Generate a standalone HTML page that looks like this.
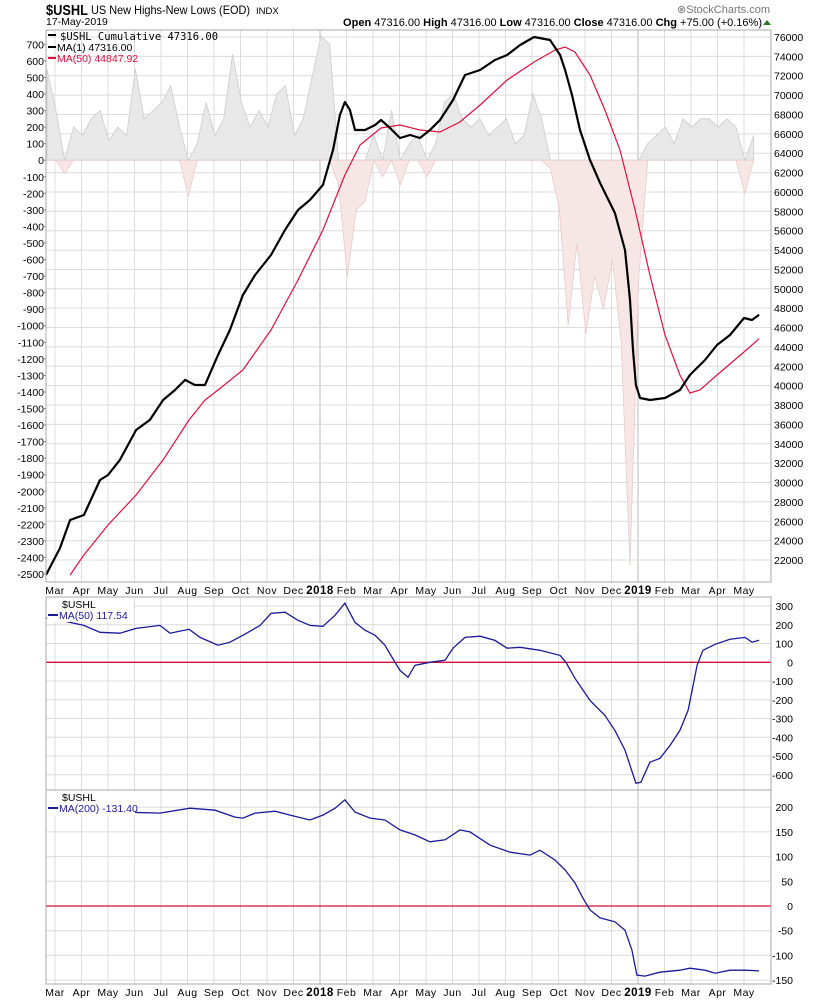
<!DOCTYPE html>
<html><head><meta charset="utf-8"><style>
html,body{margin:0;padding:0;background:#fff;}
svg{display:block;font-family:"Liberation Sans",sans-serif;}
</style></head><body>
<svg id="chart" width="820" height="1000" viewBox="0 0 820 1000" xmlns="http://www.w3.org/2000/svg">
  <text x="46" y="15" font-size="14.5" font-weight="bold" fill="#000" textLength="42" lengthAdjust="spacingAndGlyphs">$USHL</text>
  <text x="91" y="14" font-size="12" fill="#000" textLength="159" lengthAdjust="spacingAndGlyphs">US New Highs-New Lows (EOD)</text>
  <text x="256" y="14" font-size="9.5" fill="#000">INDX</text>
  <text x="46" y="25" font-size="10.5" fill="#000">17-May-2019</text>
  <text x="770" y="13" font-size="11" fill="#777" text-anchor="end">⊗StockCharts.com</text>
  <text x="762" y="26" font-size="11" fill="#000" text-anchor="end"><tspan font-weight="bold">Open</tspan> 47316.00  <tspan font-weight="bold">High</tspan> 47316.00  <tspan font-weight="bold">Low</tspan> 47316.00  <tspan font-weight="bold">Close</tspan> 47316.00  <tspan font-weight="bold">Chg</tspan> +75.00 (+0.16%)</text>
  <polygon points="763,25 771,25 767,20" fill="#2a7a2a"/>
  <g id="layer"></g>
</svg>
<script>
const monthLabels = ["Mar","Apr","May","Jun","Jul","Aug","Sep","Oct","Nov","Dec","2018","Feb","Mar","Apr","May","Jun","Jul","Aug","Sep","Oct","Nov","Dec","2019","Feb","Mar","Apr","May"];
const histStart = -0.3;
const histStep = 1/3;
const histVals = [550,300,-80, 200,150,250, 300,120,200, 150,550,250, 300,350,450, 200,-220,100, 350,150,250, 640,350,200, 300,200,400, 450,150,250, 500,750,700, -150,-700,-300, -250,150,-100, 300,-150,100, 150,-100,100, 350,400,250, 200,250,150, 200,250,100, 150,400,250, -50,-300,-1000, -500,-1050,-700, -900,-600,-1100, -2450,-700,100, 150,200,100, 250,200,250, 250,200,250, 200,-200,150];
const cumT = [-0.34,0.19,0.57,1.09,1.70,2.0,2.45,3.06,3.58,4.08,4.53,4.91,5.28,5.66,6.15,6.60,7.09,7.55,8.15,8.68,9.17,9.62,10.11,10.49,10.75,10.94,11.13,11.32,11.70,12.08,12.30,12.64,13.02,13.40,13.77,14.15,14.53,15.02,15.47,16.04,16.60,17.06,17.55,18.08,18.68,19.06,19.25,19.51,19.81,20.19,20.57,21.13,21.51,21.70,21.81,21.92,22.08,22.45,23.02,23.58,23.96,24.53,24.98,25.47,26.0,26.30,26.57];
const cumV = [20450,23240,26130,26650,30260,30780,32330,35420,36460,38520,39550,40590,40070,40070,43170,45750,49360,51430,53490,56070,58140,59170,60720,64330,67950,69290,68460,66400,66400,66910,67430,66600,65570,65880,65570,66400,67430,69500,72080,72590,73630,74140,75170,76000,75690,74140,72590,70010,66400,63300,60930,57830,54010,48850,43680,40070,38730,38520,38730,39550,41100,42650,44200,45230,46990,46780,47316];
const ma50T = [0.57,1.09,2.0,3.06,4.08,5.06,5.66,6.15,7.09,8.15,9.17,10.11,10.94,11.51,12.30,13.02,13.77,14.53,15.28,16.04,17.06,18.08,18.87,19.25,19.62,20.19,20.75,21.32,21.89,22.45,23.02,23.58,23.96,24.34,24.98,26.0,26.57];
const ma50V = [20450,22520,25610,28710,32330,36460,38520,39550,41620,45750,50910,56070,61750,64850,66600,66910,66400,66190,67220,68980,71560,73420,74660,74970,74450,72080,68460,64330,58140,51430,45230,41100,39240,39550,41100,43480,44848];
const p2T = [-0.34,0.19,1.09,1.70,2.45,3.06,3.96,4.34,5.06,5.47,6.15,6.60,7.09,7.74,8.15,8.68,9.17,9.62,10.11,10.57,10.94,11.32,11.70,12.08,12.45,12.83,13.02,13.32,13.58,14.15,14.72,15.02,15.47,16.04,16.60,17.06,17.55,18.30,19.06,19.28,19.62,20.19,20.75,21.13,21.51,21.92,22.11,22.45,22.83,23.21,23.58,23.89,24.08,24.23,24.45,24.91,25.47,26.04,26.30,26.57];
const p2V = [235,224,197,160,155,181,197,155,176,133,91,107,144,197,261,267,224,197,192,251,315,213,171,144,91,0,-43,-80,-16,0,11,75,133,139,117,75,80,64,37,0,-85,-203,-283,-363,-469,-645,-640,-533,-512,-443,-363,-256,-123,-16,64,96,123,133,107,117.54];
const p3T = [0.04,3.96,5.09,6.04,6.79,7.09,7.55,8.30,8.87,9.62,10.11,10.57,10.94,11.32,11.89,12.45,13.02,13.58,14.15,14.72,15.28,15.66,16.42,17.17,17.92,18.30,18.87,19.25,19.62,19.92,20.19,20.57,21.13,21.51,21.77,21.96,22.26,22.83,23.58,23.96,24.53,24.91,25.47,26.04,26.57];
const p3V = [194,188,198,194,180,178,188,192,184,174,184,198,215,190,178,174,154,144,130,134,154,150,123,109,103,113,93,73,47,16,-8,-24,-32,-49,-89,-140,-142,-134,-130,-126,-130,-136,-130,-130,-131.4];
const leftTicks1 = [700,600,500,400,300,200,100,0,-100,-200,-300,-400,-500,-600,-700,-800,-900,-1000,-1100,-1200,-1300,-1400,-1500,-1600,-1700,-1800,-1900,-2000,-2100,-2200,-2300,-2400,-2500];
const rightTicks1 = [76000,74000,72000,70000,68000,66000,64000,62000,60000,58000,56000,54000,52000,50000,48000,46000,44000,42000,40000,38000,36000,34000,32000,30000,28000,26000,24000,22000];
const ticks2 = [300,200,100,0,-100,-200,-300,-400,-500,-600];
const ticks3 = [200,150,100,50,0,-50,-100,-150];

const NS = "http://www.w3.org/2000/svg";
const layer = document.getElementById("layer");
const L = 46, R = 771;
const P1 = {top:30, bot:582}, P2 = {top:597, bot:790}, P3 = {top:790, bot:984};
function xT(t){ return 55 + 26.5 * t; }
function yLeft1(v){ return 160.2 - v * 0.16553; }
function yRight1(v){ return 37 + (76000 - v) / 2000 * 19.37; }
function y2(v){ return 662.3 - v * 0.1875; }
function y3(v){ return 906 - v * 0.494; }
function mk(tag, attrs, name){
  const el = document.createElementNS(NS, tag);
  for (const k in attrs) el.setAttribute(k, attrs[k]);
  
  
  layer.appendChild(el);
  return el;
}
function txt(x, y, s, attrs, name){
  const el = mk('text', Object.assign({x:x, y:y, 'font-size':11, fill:'#000'}, attrs), name);
  el.textContent = s;
  return el;
}
function pathFrom(ts, vs, yf){
  return ts.map((t,i)=>(i?'L':'M')+xT(t).toFixed(1)+','+yf(vs[i]).toFixed(1)).join(' ');
}

const defs = document.createElementNS(NS,'defs');
layer.appendChild(defs);
[[P1,'c1'],[P2,'c2'],[P3,'c3']].forEach(([p,id])=>{
  const cp = document.createElementNS(NS,'clipPath'); cp.setAttribute('id',id);
  const r = document.createElementNS(NS,'rect');
  r.setAttribute('x',L); r.setAttribute('y',p.top); r.setAttribute('width',R-L); r.setAttribute('height',p.bot-p.top);
  cp.appendChild(r); defs.appendChild(cp);
});

[P1,P2,P3].forEach((p,pi)=>{
  monthLabels.forEach((m,i)=>{
    const x = xT(i);
    const yr = m === "2018" || m === "2019";
    mk('line',{x1:x,x2:x,y1:p.top,y2:p.bot,stroke: yr ? '#b8b8b8' : '#dcdcdc','stroke-width':1},'month-gridline');
  });
});
rightTicks1.forEach(v=>{ const y=yRight1(v); mk('line',{x1:L,x2:R,y1:y,y2:y,stroke:'#dcdcdc'},'price-gridline'); });
ticks2.forEach(v=>{ const y=y2(v); mk('line',{x1:L,x2:R,y1:y,y2:y,stroke:'#dcdcdc'},'ma50-gridline'); });
ticks3.forEach(v=>{ const y=y3(v); mk('line',{x1:L,x2:R,y1:y,y2:y,stroke:'#dcdcdc'},'ma200-gridline'); });

const hT = histVals.map((v,i)=>histStart + i*histStep);
const posPts = [xT(hT[0])+','+yLeft1(0)];
const negPts = [xT(hT[0])+','+yLeft1(0)];
hT.forEach((t,i)=>{
  posPts.push(xT(t).toFixed(1)+','+yLeft1(Math.max(histVals[i],0)).toFixed(1));
  negPts.push(xT(t).toFixed(1)+','+yLeft1(Math.min(histVals[i],0)).toFixed(1));
});
posPts.push(xT(hT[hT.length-1])+','+yLeft1(0));
negPts.push(xT(hT[hT.length-1])+','+yLeft1(0));
mk('polygon',{points:posPts.join(' '),fill:'#e8e8e8',stroke:'#cccccc','stroke-width':0.8,'clip-path':'url(#c1)'},'new-highs-area');
mk('polygon',{points:negPts.join(' '),fill:'#f7e6e6',stroke:'#e8cccc','stroke-width':0.8,'clip-path':'url(#c1)'},'new-lows-area');

mk('path',{d:pathFrom(ma50T,ma50V,yRight1),fill:'none',stroke:'#e0103c','stroke-width':1.2,'clip-path':'url(#c1)'},'ma50-price-line');
mk('path',{d:pathFrom(cumT,cumV,yRight1),fill:'none',stroke:'#000','stroke-width':2.2,'stroke-linejoin':'round','clip-path':'url(#c1)'},'cumulative-line');
mk('line',{x1:L,x2:R,y1:y2(0),y2:y2(0),stroke:'#d0103a','stroke-width':1.3},'zero-line-ma50');
mk('path',{d:pathFrom(p2T,p2V,y2),fill:'none',stroke:'#1a1a9a','stroke-width':1.3,'clip-path':'url(#c2)'},'ma50-line');
mk('line',{x1:L,x2:R,y1:y3(0),y2:y3(0),stroke:'#d0103a','stroke-width':1.3},'zero-line-ma200');
mk('path',{d:pathFrom(p3T,p3V,y3),fill:'none',stroke:'#1a1a9a','stroke-width':1.3,'clip-path':'url(#c3)'},'ma200-line');

[P1,P2,P3].forEach(p=>{
  mk('rect',{x:L,y:p.top,width:R-L,height:p.bot-p.top,fill:'none',stroke:'#a8a8a8','stroke-width':1},'panel-frame');
});

leftTicks1.forEach(v=>{ txt(44, yLeft1(v)+4, String(v), {'text-anchor':'end','font-size':10.5}, 'left-axis-label'); mk('line',{x1:L-3,x2:L,y1:yLeft1(v),y2:yLeft1(v),stroke:'#888'},'left-tick'); });
rightTicks1.forEach(v=>{ txt(774, yRight1(v)+4, String(v), {'font-size':10.5}, 'right-axis-label'); });
ticks2.forEach(v=>{ txt(793, y2(v)+4, String(v), {'text-anchor':'end','font-size':10.5}, 'ma50-axis-label'); });
ticks3.forEach(v=>{ txt(793, y3(v)+4, String(v), {'text-anchor':'end','font-size':10.5}, 'ma200-axis-label'); });
[594, 996].forEach(yy=>{
  monthLabels.forEach((m,i)=>{
    const yr = m === "2018" || m === "2019";
    txt(xT(i), yy, m, {'text-anchor':'middle','font-size': yr ? 11.5 : 10.5,'font-weight': yr ? 'bold':'normal','letter-spacing':0.5}, 'month-label');
  });
});

mk('rect',{x:48,y:34,width:8,height:2,fill:'#000'},'legend-swatch-cumulative');
txt(60, 40, '$USHL Cumulative 47316.00', {'font-family':'"DejaVu Sans Mono",monospace','font-size':10.5}, 'legend-cumulative');
mk('rect',{x:48,y:46,width:8,height:2,fill:'#000'},'legend-swatch-ma1');
txt(57, 51, 'MA(1) 47316.00', {'font-size':10.5}, 'legend-ma1');
mk('rect',{x:48,y:57,width:8,height:2,fill:'#e0103c'},'legend-swatch-ma50');
txt(57, 62, 'MA(50) 44847.92', {'font-size':10.5,fill:'#e0103c'}, 'legend-ma50-price');
mk('rect',{x:47,y:598,width:86,height:24,fill:'#fff'},'legend-bg-panel2');
txt(62, 608, '$USHL', {'font-size':10.5}, 'legend-symbol-panel2');
mk('rect',{x:48,y:614,width:10,height:2,fill:'#1a1a9a'},'legend-swatch-panel2');
txt(59, 619, 'MA(50) 117.54', {'font-size':10.5,fill:'#1a1a9a'}, 'legend-ma50');
mk('rect',{x:47,y:791,width:88,height:24,fill:'#fff'},'legend-bg-panel3');
txt(62, 801, '$USHL', {'font-size':10.5}, 'legend-symbol-panel3');
mk('rect',{x:48,y:807,width:10,height:2,fill:'#1a1a9a'},'legend-swatch-panel3');
txt(59, 812, 'MA(200) -131.40', {'font-size':10.5,fill:'#1a1a9a'}, 'legend-ma200');
</script>
</body></html>
